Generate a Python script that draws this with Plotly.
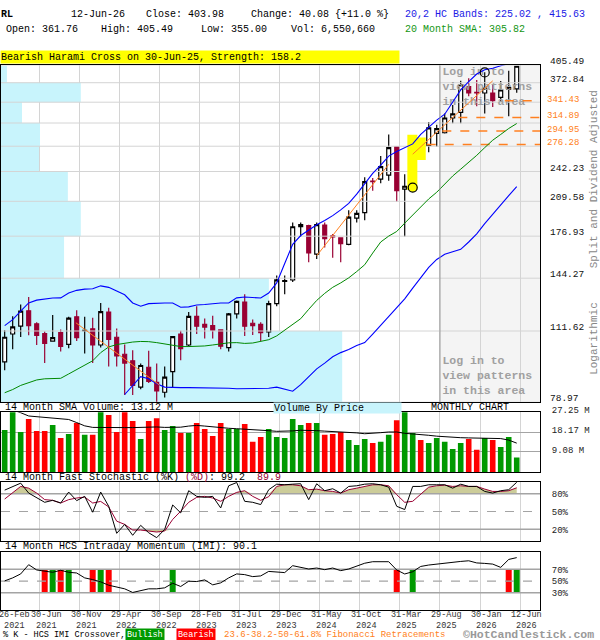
import math
import plotly.graph_objects as go

# monthly bars 26-Feb-2021 .. 12-Jun-2026 (split & dividend adjusted)
bar_open = [96.1, 110.0, 114.3, 123.1, 115.6, 110.2, 106.3, 110.7, 104.6, 119.6,
            111.8, 112.8, 104.3, 122.4, 108.3, 99.7, 96.6, 85.0, 93.6, 87.0,
            82.9, 91.6, 110.0, 104.3, 119.9, 115.3, 114.6, 112.2, 103.0, 121.3,
            128.5, 115.9, 115.3, 111.1, 127.5, 142.0, 143.0, 185.2, 186.3, 162.1,
            186.7, 177.3, 175.4, 170.1, 193.2, 198.4, 231.2, 233.4, 238.0, 273.2,
            222.4, 223.3, 277.0, 274.9, 291.6, 292.4, 314.1, 322.8, 365.8, 356.0,
            354.7, 354.7, 347.2, 361.4, 361.76]
bar_high = [112.0, 119.9, 126.9, 131.6, 116.5, 111.3, 120.7, 112.4, 119.6, 123.5,
            119.6, 119.0, 127.9, 124.9, 113.0, 104.6, 101.7, 95.3, 101.4, 95.3,
            94.0, 108.6, 111.8, 122.4, 125.9, 118.6, 120.2, 112.5, 121.9, 129.5,
            133.5, 118.0, 116.5, 129.3, 146.2, 146.2, 189.1, 189.1, 187.0, 189.1,
            189.1, 178.8, 175.8, 200.6, 200.6, 235.5, 234.8, 261.1, 289.8, 274.0,
            239.1, 288.4, 283.9, 308.0, 304.1, 321.0, 334.8, 376.3, 381.1, 377.6,
            392.3, 368.6, 375.8, 395.0, 405.49]
bar_low = [92.2, 102.2, 108.4, 109.3, 104.3, 95.5, 106.0, 101.0, 102.6, 106.3,
           100.1, 95.5, 103.0, 94.0, 94.0, 81.8, 81.8, 84.1, 86.7, 79.0,
           80.8, 85.0, 96.9, 103.5, 110.0, 107.6, 107.6, 102.2, 101.0, 118.6,
           109.0, 109.5, 106.3, 108.4, 125.9, 133.5, 141.6, 176.3, 155.8, 158.3,
           167.4, 159.3, 155.8, 169.4, 189.1, 191.2, 220.6, 228.9, 231.5, 209.2,
           176.7, 220.0, 258.0, 265.9, 273.3, 291.4, 306.1, 306.1, 349.2, 332.4,
           320.9, 331.3, 339.9, 316.9, 355.00]
bar_close = [108.3, 113.9, 122.9, 114.6, 109.3, 105.1, 108.1, 103.6, 118.8, 108.1,
             112.0, 104.3, 122.7, 107.1, 98.9, 95.5, 85.7, 94.4, 87.4, 83.4,
             89.2, 108.6, 102.5, 119.9, 114.3, 113.8, 112.1, 103.7, 121.3, 128.9,
             114.3, 114.6, 110.7, 127.5, 143.1, 142.6, 185.2, 187.1, 163.2, 187.1,
             174.9, 176.3, 170.7, 194.1, 197.6, 230.7, 230.7, 248.0, 271.9, 220.6,
             225.5, 277.0, 274.0, 299.3, 298.2, 314.1, 320.5, 368.6, 354.7, 354.7,
             363.1, 341.9, 359.9, 363.90, 403.98]
volume = [19.1, 28.5, 18.2, 24.1, 18.7, 18.7, 21.4, 15.5, 17.3, 22.3,
          16.9, 16.9, 28.0, 25.9, 18.2, 27.6, 23.2, 15.0, 23.2, 24.5,
          19.1, 20.9, 17.8, 17.8, 22.3, 19.6, 16.4, 22.3, 19.6, 19.6,
          21.8, 13.7, 15.9, 19.6, 15.9, 15.5, 24.1, 21.4, 22.3, 22.3,
          16.9, 17.3, 18.2, 14.6, 12.3, 15.0, 13.2, 13.7, 16.9, 23.6,
          28.0, 17.8, 14.6, 13.2, 15.5, 13.7, 10.5, 13.2, 15.0, 10.1,
          15.5, 14.6, 11.4, 15.9, 6.55066]  # millions
vol_sma = [29.5, 28.3, 27.0, 25.5, 25.2, 24.8, 24.6, 24.2, 23.9, 22.5,
           21.0, 20.3, 20.2, 20.2, 20.2, 20.2, 20.2, 20.3, 20.5, 20.5,
           20.3, 20.2, 20.4, 20.9, 21.2, 20.9, 20.5, 20.2, 19.9, 19.7,
           19.5, 19.3, 19.3, 18.8, 18.5, 18.5, 18.7, 19.0, 19.0, 18.8,
           18.6, 18.4, 18.3, 18.2, 17.8, 17.4, 17.5, 17.9, 18.2, 18.2,
           17.6, 17.4, 17.0, 16.7, 16.3, 16.0, 15.8, 15.6, 15.5, 15.4,
           15.3, 15.3, 15.2, 14.5, 13.12]
sma20 = [82.7, 84.0, 85.7, 87.0, 88.0, 88.5, 88.7, 88.7, 90.6, 92.5,
         94.5, 96.6, 100.5, 103.3, 104.5, 105.2, 105.8, 106.1, 106.0, 105.5,
         104.8, 104.0, 103.5, 103.5, 103.6, 103.8, 104.3, 105.0, 105.4, 105.5,
         105.1, 105.3, 106.0, 107.0, 109.0, 112.0, 115.0, 118.5, 124.0, 129.5,
         134.0, 138.0, 141.0, 144.5, 149.0, 154.0, 163.0, 172.0, 177.0, 181.0,
         188.5, 196.0, 204.0, 212.0, 219.0, 228.0, 237.0, 245.0, 253.0, 262.0,
         272.0, 282.0, 290.0, 298.5, 305.82]
bb_upper = [114.6, 118.0, 122.9, 127.9, 129.7, 130.5, 131.0, 131.1, 134.2, 136.0,
            136.8, 137.0, 139.0, 138.0, 135.5, 133.1, 127.9, 125.9, 127.5, 127.9,
            127.9, 127.9, 125.3, 125.5, 126.7, 127.0, 127.5, 127.9, 127.9, 131.1,
            131.7, 131.5, 131.0, 134.2, 141.0, 155.0, 170.0, 177.5, 182.5, 187.0,
            191.0, 195.5, 201.0, 207.5, 217.0, 228.0, 240.0, 250.0, 261.0, 267.0,
            272.0, 277.0, 290.0, 301.0, 311.0, 320.0, 340.0, 360.0, 375.0, 389.0,
            397.0, 400.0, 405.0, 409.0, 415.63]
bb_lower = [None] * 15 + [
            82.0, 85.7, 89.4, 88.5, 86.4,
            85.0, 84.8, 84.8, 84.8, 84.8, 84.8, 84.6, 84.5, 84.5, 84.3,
            84.3, 84.3, 84.5, 84.5, 85.0, 84.0, 83.3, 86.0, 89.5, 92.9,
            95.5, 98.5, 100.5, 102.0, 104.0, 105.5, 110.0, 114.8, 120.0, 125.0,
            130.5, 137.5, 144.5, 152.0, 158.0, 162.0, 164.0, 166.0, 172.0, 179.0,
            188.0, 197.0, 206.5, 215.5, 225.02]
stoch_k = [86.0, 92.2, 97.7, 81.0, 72.7, 65.5, 68.8, 64.3, 82.7, 68.3,
           75.5, 48.8, 82.7, 58.8, 13.3, 28.3, 10.0, 26.7, 14.3, 6.0,
           20.0, 61.0, 47.7, 85.0, 75.5, 73.8, 75.5, 56.0, 93.3, 98.8,
           67.2, 65.5, 61.7, 86.7, 96.0, 95.0, 96.0, 96.7, 70.0, 96.7,
           85.0, 88.3, 81.0, 92.2, 93.3, 96.0, 96.7, 95.0, 91.0, 58.8,
           53.3, 92.2, 92.2, 95.0, 95.0, 95.0, 89.3, 96.0, 92.2, 92.2,
           83.8, 81.0, 85.0, 86.7, 99.2]
stoch_d = [71.0, 81.0, 92.2, 89.3, 81.0, 70.0, 68.8, 64.3, 70.0, 72.7,
           74.3, 64.3, 67.0, 57.7, 33.8, 28.3, 18.8, 18.8, 17.2, 15.5,
           17.2, 36.7, 50.5, 65.5, 73.8, 75.5, 72.7, 67.2, 75.5, 82.2,
           85.0, 75.5, 68.8, 75.0, 92.2, 95.0, 95.0, 93.3, 86.7, 87.7,
           85.0, 83.8, 81.0, 86.7, 89.3, 92.2, 95.0, 95.0, 93.3, 78.3,
           65.5, 67.2, 78.3, 91.0, 93.3, 94.4, 92.2, 93.3, 92.2, 92.2,
           87.7, 83.8, 83.8, 85.0, 89.9]
imi = [50.3, 55.4, 62.2, 78.0, 69.0, 66.7, 65.0, 68.4, 65.0, 63.8,
       55.4, 52.5, 48.6, 42.9, 39.5, 36.7, 30.5, 33.9, 36.7, 36.7,
       38.4, 46.3, 40.7, 49.7, 49.2, 52.0, 43.5, 46.9, 55.4, 62.2,
       61.0, 57.6, 58.8, 66.5, 66.0, 64.5, 76.3, 73.4, 70.6, 72.3,
       69.5, 72.3, 67.8, 70.6, 75.5, 80.5, 83.1, 83.6, 83.1, 68.9,
       62.1, 66.0, 75.0, 77.4, 79.1, 81.0, 82.5, 83.6, 84.7, 81.0,
       80.2, 79.0, 73.4, 87.0, 90.1]

# %K / IMI crossovers
cross_idx = [5, 6, 7, 8, 11, 12, 13, 21, 49, 51, 63, 64]
cross_bull = [False, True, False, True, False, True, False, True, False, True, False, True]

# date axis
date_idx = [0, 4, 9, 14, 19, 24, 29, 34, 39, 44, 49, 54, 59, 64]
date_day = ['26-Feb', '30-Jun', '30-Nov', '29-Apr', '30-Sep', '28-Feb', '31-Jul',
            '29-Dec', '31-May', '31-Oct', '31-Mar', '29-Aug', '30-Jan', '12-Jun']
date_year = ['2021', '2021', '2021', '2022', '2022', '2023', '2023',
             '2023', '2024', '2024', '2025', '2025', '2026', '2026']

# price scale
price_grid = [78.97, 111.62, 144.27, 176.93, 209.58, 242.23, 273.88, 306.54, 339.19, 372.84, 405.49]
price_labels = [78.97, 111.62, 144.27, 176.93, 209.58, 242.23, 372.84, 405.49]
fib_levels = [341.43, 314.89, 294.95, 276.28]
fib_from = [62.5, 56.7, 54.7, 52.75]

# volume by price, share of panel width per price band (bottom band first)
vbp_share = [0.633, 0.497, 0.117, 0.148, 0.124, 0.0705, 0.0724, 0.039, 0.148, 0.011]

# pattern highlight (Harami) and marks
pat_x0 = [50.33, 51.58]
pat_x1 = [51.58, 52.63]
pat_lo = [221.5, 256.0]
pat_hi = [289.6, 285.9]
mark_idx = [51, 60]
mark_price = [224.0, 392.0]
mark_fill = ['#FFFF00', 'rgba(0,0,0,0)']

# trend lines
trend_x = [[8.9, 19.4], [39.0, 48.0], [51.0, 61.0]]
trend_y = [[116.2, 85.7], [160.9, 250.8], [263.5, 376.3]]

login_idx = 54
login_text_price = [364.6, 89.6]

vol_ticks = [9.08, 18.17, 27.25]
stoch_levels = [20, 80]
imi_levels = [30, 70]
mid_level = 50

# ---------------------------------------------------------------
FONT = 'Liberation Mono'
W, H = 600, 640
CYAN = '#C8F4FC'
GRID = '#D4D4D4'
LEVEL = '#A4A4A4'
MAROON = '#990033'
VGREEN = '#009900'
VRED = '#FF0000'
ORANGE = '#FF8020'
TAN = '#CCCC99'
GRID_OFF = 0.41
XL, XR = -0.46, 66.91


def fx(p):
    return p / W


def fy(p):
    return 1 - p / H


n = len(bar_close)
idx = list(range(n))
xdom = [fx(1), fx(540)]
grid_x = [d + GRID_OFF for d in date_idx[1:]]

fig = go.Figure()

# volume by price on the base axis of the price panel (under everything)
vx, vy = [], []
for lo, hi, s in zip(price_grid[:-1], price_grid[1:], vbp_share):
    vx += [0, s, s, 0, 0, None]
    vy += [lo, lo, hi, hi, lo, None]
fig.add_trace(go.Scatter(x=vx, y=vy, xaxis='x', yaxis='y', mode='lines', fill='toself',
                         fillcolor=CYAN, line=dict(width=0, color=CYAN), hoverinfo='skip'))

# horizontal price grid
gx, gy = [], []
for p in price_grid:
    gx += [XL, XR, None]
    gy += [p, p, None]
fig.add_trace(go.Scatter(x=gx, y=gy, xaxis='x5', yaxis='y', mode='lines',
                         line=dict(color=GRID, width=1), hoverinfo='skip'))

# harami highlight boxes
hx, hy = [], []
for a, b, lo, hi in zip(pat_x0, pat_x1, pat_lo, pat_hi):
    hx += [a, b, b, a, a, None]
    hy += [lo, lo, hi, hi, lo, None]
fig.add_trace(go.Scatter(x=hx, y=hy, xaxis='x5', yaxis='y', mode='lines', fill='toself',
                         fillcolor='#FFFF00', line=dict(width=0, color='#FFFF00'), hoverinfo='skip'))

# "log in" notes
fig.add_trace(go.Scatter(x=[login_idx + GRID_OFF + 0.3] * 2, y=login_text_price, xaxis='x5', yaxis='y',
                         mode='text', text=['Log in to<br>view patterns<br>in this area'] * 2,
                         textposition='middle right',
                         textfont=dict(family=FONT, size=11.5, color='#A0A0A0', weight='bold'),
                         hoverinfo='skip'))

# fibonacci levels
for lvl, start in zip(fib_levels, fib_from):
    fig.add_trace(go.Scatter(x=[start, XR], y=[lvl, lvl], xaxis='x5', yaxis='y', mode='lines',
                             line=dict(color=ORANGE, width=1.5, dash='dash'), hoverinfo='skip'))

fig.add_trace(go.Candlestick(x=idx, open=bar_open, high=bar_high, low=bar_low, close=bar_close,
                             xaxis='x5', yaxis='y',
                             increasing=dict(line=dict(color='black', width=1.2), fillcolor='white'),
                             decreasing=dict(line=dict(color=MAROON, width=1.2), fillcolor=MAROON),
                             hoverinfo='skip'))

fig.add_trace(go.Scatter(x=idx, y=sma20, xaxis='x5', yaxis='y', mode='lines',
                         line=dict(color='#008800', width=1), hoverinfo='skip'))
fig.add_trace(go.Scatter(x=idx, y=bb_upper, xaxis='x5', yaxis='y', mode='lines',
                         line=dict(color='#0000FF', width=1.1), hoverinfo='skip'))
fig.add_trace(go.Scatter(x=idx, y=bb_lower, xaxis='x5', yaxis='y', mode='lines',
                         line=dict(color='#0000FF', width=1.1), hoverinfo='skip'))

for tx, ty in zip(trend_x, trend_y):
    fig.add_trace(go.Scatter(x=tx, y=ty, xaxis='x5', yaxis='y', mode='lines',
                             line=dict(color=ORANGE, width=1), hoverinfo='skip'))

fig.add_trace(go.Scatter(x=mark_idx, y=mark_price, xaxis='x5', yaxis='y', mode='markers',
                         marker=dict(size=9, color=mark_fill, line=dict(color='black', width=1.2)),
                         hoverinfo='skip'))

# volume panel
vcol = [VGREEN if c >= o else VRED for o, c in zip(bar_open, bar_close)]
fig.add_trace(go.Bar(x=idx, y=volume, xaxis='x2', yaxis='y2', marker=dict(color=vcol, line=dict(width=0)),
                     width=0.7, hoverinfo='skip'))
fig.add_trace(go.Scatter(x=idx, y=vol_sma, xaxis='x2', yaxis='y2', mode='lines',
                         line=dict(color='black', width=1), hoverinfo='skip'))

# stochastic panel
up_fill = [max(d, stoch_levels[1]) for d in stoch_d]
lo_fill = [min(d, stoch_levels[0]) for d in stoch_d]
for base, band in ((stoch_levels[1], up_fill), (stoch_levels[0], lo_fill)):
    fig.add_trace(go.Scatter(x=idx, y=[base] * n, xaxis='x3', yaxis='y3', mode='lines',
                             line=dict(width=0), hoverinfo='skip'))
    fig.add_trace(go.Scatter(x=idx, y=band, xaxis='x3', yaxis='y3', mode='lines', fill='tonexty',
                             fillcolor=TAN, line=dict(width=0), hoverinfo='skip'))


def levels(xa, ya, solid, mid):
    for lv in solid:
        fig.add_trace(go.Scatter(x=[XL, XR], y=[lv, lv], xaxis=xa, yaxis=ya, mode='lines',
                                 line=dict(color=LEVEL, width=1.5), hoverinfo='skip'))
    fig.add_trace(go.Scatter(x=[XL, XR], y=[mid, mid], xaxis=xa, yaxis=ya, mode='lines',
                             line=dict(color=LEVEL, width=1.2, dash='dash'), hoverinfo='skip'))


levels('x3', 'y3', stoch_levels, mid_level)
fig.add_trace(go.Scatter(x=idx, y=stoch_d, xaxis='x3', yaxis='y3', mode='lines',
                         line=dict(color=MAROON, width=1), hoverinfo='skip'))
fig.add_trace(go.Scatter(x=idx, y=stoch_k, xaxis='x3', yaxis='y3', mode='lines',
                         line=dict(color='black', width=1), hoverinfo='skip'))

# IMI panel
levels('x4', 'y4', imi_levels, mid_level)
fig.add_trace(go.Bar(x=cross_idx, y=[imi_levels[1] - imi_levels[0]] * len(cross_idx), base=imi_levels[0],
                     xaxis='x4', yaxis='y4', width=0.75,
                     marker=dict(color=[VGREEN if b else VRED for b in cross_bull], line=dict(width=0)),
                     hoverinfo='skip'))
fig.add_trace(go.Scatter(x=idx, y=imi, xaxis='x4', yaxis='y4', mode='lines',
                         line=dict(color='black', width=1), hoverinfo='skip'))

# ---------------------------------------------------------------
xcommon = dict(domain=xdom, range=[XL, XR], tickmode='array', tickvals=grid_x, showticklabels=False,
               ticks='', showgrid=True, gridcolor=GRID, gridwidth=1, zeroline=False,
               showline=True, mirror=True, linecolor='black', linewidth=1, fixedrange=True)
ycommon = dict(zeroline=False, showline=True, mirror=True, linecolor='black', linewidth=1,
               ticks='', side='right', ticklabelstandoff=9, fixedrange=True,
               tickfont=dict(family=FONT, size=9, color='#222'))

annotations = []


def note(text, x, y, size=10, color='black', **kw):
    d = dict(text=text, xref='paper', yref='paper', x=fx(x), y=fy(y), xanchor='left', yanchor='middle',
             showarrow=False, font=dict(family=FONT, size=size, color=color), borderpad=0)
    d.update(kw)
    annotations.append(d)


chg = bar_close[-1] - bar_close[-2]
pct = chg / bar_close[-2] * 100
note('<b>RL</b>', 0, 9)
note('12-Jun-26', 70, 9)
note(f'Close: {bar_close[-1]:.2f}', 144.7, 9)
note(f'Change: {chg:.2f} {{{pct:+.1f} %}}', 249.5, 9)
note(f'Open: {bar_open[-1]:.2f}', 4.6, 24)
note(f'High: {bar_high[-1]:.2f}', 99.5, 24)
note(f'Low: {bar_low[-1]:.2f}', 199.8, 24)
note(f'Vol: {volume[-1] * 1e6:,.0f}', 289.7, 24)
note(f'20,2 HC Bands: {bb_lower[-1]:.2f} , {bb_upper[-1]:.2f}', 404, 9, color='#1A1AE6')
note(f'20 Month SMA: {sma20[-1]:.2f}', 404, 24, color='#149614')
note('Bearish Harami Cross on 30-Jun-25, Strength: 158.2', 0, 51.5, bgcolor='#FFFF00',
     width=398, height=12, align='left')

note(f'14 Month SMA Volume: {vol_sma[-1]:.2f} M', 4, 405.5)
note('Volume By Price', 273, 405.5, bgcolor=CYAN, width=127, height=10, align='left')
note('MONTHLY CHART', 430, 405.5)
note(f'14 Month Fast Stochastic (%K) <span style="color:{MAROON}">(%D)</span>: {stoch_k[-1]:.1f}'
     f'\u00a0\u00a0<span style="color:{MAROON}">{stoch_d[-1]:.1f}</span>', 4, 476)
note(f'14 Month HCS Intraday Momentum (IMI): {imi[-1]:.1f}', 4, 546)

note('Split and Dividend Adjusted', 594, 175, size=11, color='#888', textangle=-90, xanchor='center')
note('Logarithmic', 594, 336, size=11, color='#888', textangle=-90, xanchor='center')

# right price labels
for p in price_labels:
    annotations.append(dict(text=f'{p:.2f}', xref='paper', yref='y', x=fx(548), y=math.log10(p),
                            xanchor='left', yanchor='middle', yshift=3.5, showarrow=False,
                            font=dict(family=FONT, size=9.5, color='#111')))
for p in fib_levels:
    annotations.append(dict(text=f'{p:.2f}', xref='paper', yref='y', x=fx(545), y=math.log10(p),
                            xanchor='left', yanchor='middle', yshift=1, showarrow=False,
                            font=dict(family=FONT, size=9, color=ORANGE)))

# date labels (two-line, one text per tick)
for d, a, b in zip(date_idx, date_day, date_year):
    annotations.append(dict(text=f'{a}<br>{b}', xref='x4', yref='paper', x=d + GRID_OFF, y=fy(620),
                            xshift=6.5, xanchor='center', yanchor='middle', showarrow=False,
                            font=dict(family=FONT, size=8.5, color='#333')))

# footer
note('% K - HCS IMI Crossover,', 1.5, 634.5, size=8.5)
note('Bullish', 125, 634.5, size=8.5, color='white', bgcolor=VGREEN, borderpad=1)
note('Bearish', 175.5, 634.5, size=8.5, color='white', bgcolor=VRED, borderpad=1)
note('23.6-38.2-50-61.8% Fibonacci Retracements', 222.5, 634.5, size=9, color=ORANGE)
note('\u00a9HotCandlestick.com', 462, 634.5, size=11.5, color='#999')
annotations[-1]['font']['weight'] = 'bold'

# hidden-pattern area, in fractions of the price panel width (base axis)
login_frac = (login_idx + GRID_OFF - XL) / (XR - XL)
shapes = [
    dict(type='rect', xref='x', yref='y domain', x0=login_frac, x1=1, y0=0, y1=1,
         fillcolor='#F4F4F4', line=dict(width=0), layer='below'),
    dict(type='line', xref='x', yref='y domain', x0=login_frac, x1=login_frac,
         y0=0, y1=1, line=dict(color='#9A9A9A', width=1), layer='above'),
]

fig.update_layout(
    width=W, height=H, margin=dict(l=0, r=0, t=0, b=0),
    paper_bgcolor='white', plot_bgcolor='white', showlegend=False,
    font=dict(family=FONT, size=10, color='black'),
    boxgap=0.3,
    xaxis=dict(domain=xdom, range=[0, 1], visible=False, fixedrange=True),
    xaxis5=dict(xcommon, overlaying='x', anchor='y', rangeslider=dict(visible=False)),
    yaxis=dict(ycommon, type='log', domain=[fy(400), fy(60)],
               range=[math.log10(price_grid[0]), math.log10(price_grid[-1])],
               showgrid=False, showticklabels=False),
    xaxis2=dict(xcommon, anchor='y2'),
    yaxis2=dict(ycommon, domain=[fy(470.3), fy(410)], range=[0, vol_ticks[-1]], anchor='x2',
                tickvals=vol_ticks, ticktext=[f'{v:.2f} M' for v in vol_ticks],
                showgrid=True, gridcolor=LEVEL, ticklabelshift=-2),
    xaxis3=dict(xcommon, anchor='y3'),
    yaxis3=dict(ycommon, domain=[fy(540.3), fy(480.3)], range=[0, 100], anchor='x3',
                tickvals=[stoch_levels[0], mid_level, stoch_levels[1]],
                ticktext=[f'{v}%' for v in (stoch_levels[0], mid_level, stoch_levels[1])],
                showgrid=False),
    xaxis4=dict(xcommon, anchor='y4'),
    yaxis4=dict(ycommon, domain=[fy(610), fy(551)], range=[0, 100], anchor='x4',
                tickvals=[imi_levels[0], mid_level, imi_levels[1]],
                ticktext=[f'{v}%' for v in (imi_levels[0], mid_level, imi_levels[1])],
                showgrid=False),
    annotations=annotations,
    shapes=shapes,
)

fig.write_html('out.html', config={'displayModeBar': False},
               post_script="document.body.style.margin='0';")
